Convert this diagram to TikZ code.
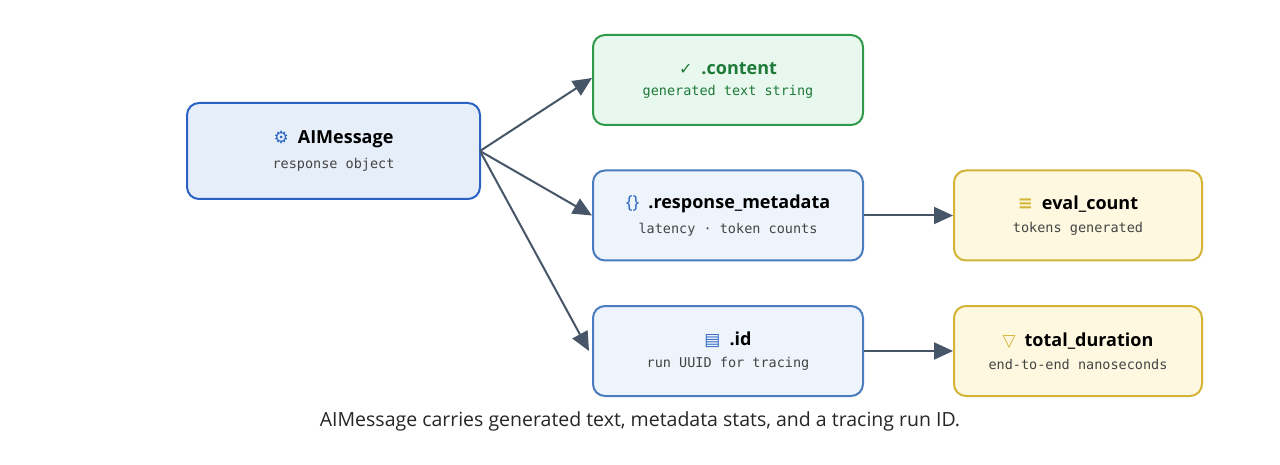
\documentclass[tikz,border=0pt]{standalone}
\usepackage{fontspec}
\setmainfont{Open Sans}
\setmonofont{DejaVu Sans Mono}
\newfontfamily\symf{DejaVu Sans}
\usetikzlibrary{arrows.meta}
\definecolor{arr}{HTML}{475569}
\definecolor{bluefill}{HTML}{E6EEFA}\definecolor{blueline}{HTML}{2B63C4}
\definecolor{lbluefill}{HTML}{EEF4FC}\definecolor{lblueline}{HTML}{4B7CC0}
\definecolor{greenfill}{HTML}{E8F8EE}\definecolor{greenline}{HTML}{2E9A4A}
\definecolor{greentext}{HTML}{1E7A38}
\definecolor{yelfill}{HTML}{FEF8E0}\definecolor{yelline}{HTML}{D4B437}
\definecolor{sub}{HTML}{444444}
\tikzset{
 box/.style={rounded corners=12pt,line width=2pt,minimum width=#1,minimum height=90pt,align=center,inner sep=0pt},
 conn/.style={draw=arr,line width=2pt,-{Triangle[length=19pt,width=17pt]}},
}
\newcommand{\ttlf}{\fontsize{18}{21}\selectfont\bfseries}
\newcommand{\sbt}[1]{\\[9pt]{\fontsize{13.5}{15}\selectfont\ttfamily\color{sub}#1}}
\begin{document}
\begin{tikzpicture}[x=1pt,y=-1pt]
\useasboundingbox[fill=white] (0,0) rectangle (1280,465);
\node[box=293pt,minimum height=96pt,fill=bluefill,draw=blueline] (ai) at (333.5,151)
 {{\ttlf{\color{blueline}\symf\fontsize{17}{17}\selectfont ⚙}\enspace AIMessage}\sbt{response object}};
\node[box=270pt,fill=greenfill,draw=greenline] (ct) at (728,80)
 {{\ttlf\color{greentext}{\symf\fontsize{16}{16}\selectfont\mdseries ✓}\enspace .content}\sbt{\color{greentext}generated text string}};
\node[box=270pt,fill=lbluefill,draw=lblueline] (rm) at (728,215.5)
 {{\ttlf{\color{blueline}\mdseries\{\}}\enspace .response\_metadata}\sbt{latency · token counts}};
\node[box=270pt,fill=lbluefill,draw=lblueline] (id) at (728,351)
 {{\ttlf{\color{blueline}\symf\fontsize{17}{17}\selectfont\mdseries ▤}\enspace .id}\sbt{run UUID for tracing}};
\node[box=248pt,fill=yelfill,draw=yelline] (ev) at (1078,215.5)
 {{\ttlf{\color{yelline}\symf\fontsize{18}{18}\selectfont ≡}\enspace eval\_count}\sbt{tokens generated}};
\node[box=248pt,fill=yelfill,draw=yelline] (td) at (1078,351)
 {{\ttlf{\color{yelline}\symf\fontsize{17}{17}\selectfont\mdseries ▽}\enspace total\_duration}\sbt{end-to-end nanoseconds}};
\coordinate (o) at (480,151);
\draw[conn] (o) -- (ct.west|-0,78) ;
\draw[conn] (o) -- (rm.west);
\draw[conn] (o) -- ([xshift=-3pt]id.west);
\draw[conn] (rm.east) -- (ev.west);
\draw[conn] (id.east) -- (td.west);
\node[font=\fontsize{19.5}{22}\selectfont,text=black!85] (cap) at (640,421) {AIMessage carries generated text, metadata stats, and a tracing run ID.};
\end{tikzpicture}
\end{document}
